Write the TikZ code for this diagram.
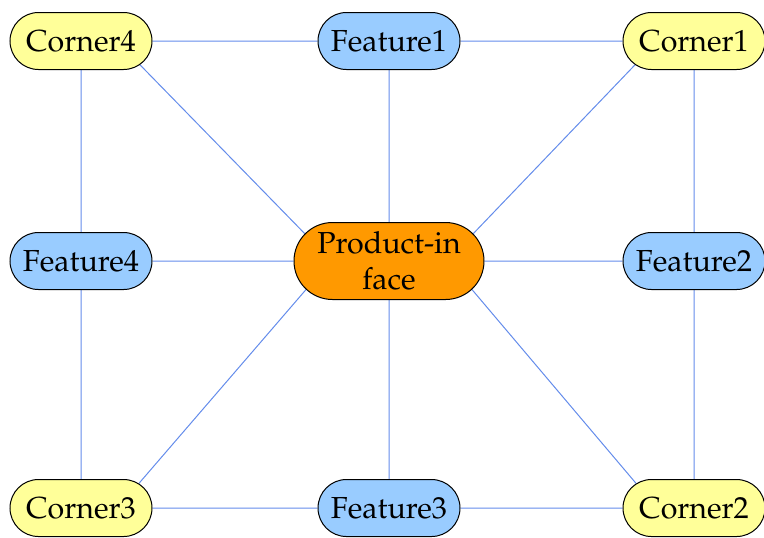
\documentclass[tikz,border=0pt]{standalone}
\usepackage[T1]{fontenc}
\usepackage{mathpazo}
\usepackage{tikz}
\usetikzlibrary{shapes.misc,backgrounds}

\definecolor{cornerfill}{RGB}{255,255,153}
\definecolor{featurefill}{RGB}{153,204,255}
\definecolor{hubfill}{RGB}{255,153,0}
\definecolor{linkblue}{RGB}{100,140,235}

\begin{document}
\begin{tikzpicture}[x=0.5pt, y=-0.5pt,
    box/.style={shape=rounded rectangle, draw=black, line width=0.5pt, inner sep=+0pt,
                minimum width=71pt, minimum height=28.5pt,
                font=\fontsize{15.2}{17.8}\selectfont},
    corner/.style={box, fill=cornerfill},
    feature/.style={box, fill=featurefill},
    hub/.style={box, fill=hubfill, minimum width=95pt, minimum height=38.5pt, align=center},
    link/.style={draw=linkblue, line width=0.5pt}]
       \useasboundingbox (0,0) rectangle (764,537);

       \node[hub] (hub) at (389,261) {Product-in\\face};

       \node[corner]  (c4) at (81,41)   {Corner4};
       \node[feature] (f1) at (389,41)  {Feature1};
       \node[corner]  (c1) at (694,41)  {Corner1};
       \node[feature] (f4) at (81,261)  {Feature4};
       \node[feature] (f2) at (694,261) {Feature2};
       \node[corner]  (c3) at (81,508)  {Corner3};
       \node[feature] (f3) at (389,508) {Feature3};
       \node[corner]  (c2) at (694,508) {Corner2};

       \begin{scope}[on background layer]
         % outer ring
         \foreach \a/\b in {c4/f1, f1/c1, c1/f2, f2/c2, c2/f3, f3/c3, c3/f4, f4/c4}
           \draw[link] (\a) -- (\b);
         % spokes from the hub
         \foreach \f in {f1, f2, f3, f4}
           \draw[link] (hub) -- (\f);
         \draw[link] (c4.-22)  -- (hub.162);
         \draw[link] (c1.202)  -- (hub.18);
         \draw[link] (c2.157)  -- (hub.-19);
         \draw[link] (c3.23)   -- (hub.199);
       \end{scope}
\end{tikzpicture}
\end{document}
